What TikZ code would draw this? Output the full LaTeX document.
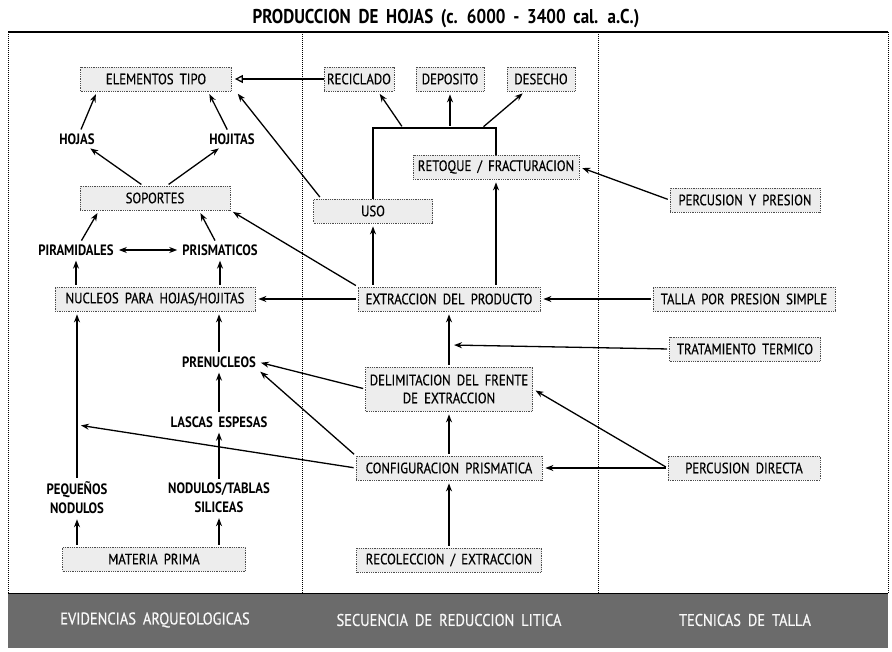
\documentclass[tikz,border=0pt]{standalone}
\usepackage{fontspec}
\setmainfont{PT Sans}[FakeStretch=0.85, WordSpace=1.8]
\newfontfamily\cajafont{PT Sans}[FakeStretch=0.85, WordSpace=1.8, FakeBold=0.5]
\usetikzlibrary{arrows.meta}

\tikzset{
  caja/.style={fill=gray!14, draw=gray!60!black, densely dotted, line width=0.8pt,
    minimum height=24pt, inner xsep=3pt, font=\cajafont\fontsize{15}{18}\selectfont, align=center},
  etiq/.style={font=\bfseries\fontsize{15}{19}\selectfont, align=center, inner sep=2pt},
  flecha/.style={->, line width=1.3pt, shorten >=3pt, shorten <=2pt},
  barra/.style={text=gray!5, font=\cajafont\fontsize{17}{20}\selectfont},
}

\begin{document}
\begin{tikzpicture}[x=1pt, y=-1pt, >={Stealth[length=8pt,width=6pt]}]
\useasboundingbox (0,0) rectangle (892,652);

% Titulo
\node[font=\bfseries\fontsize{20}{24}\selectfont] (titulo) at (446,19)
  {PRODUCCION DE HOJAS (c. 6000 - 3400 cal. a.C.)};

% Marco y columnas
\draw[line width=1.6pt] (8,32) -- (888,32);
\foreach \x in {8,302,598,888}
  \draw[densely dotted, line width=1pt] (\x,32) -- (\x,593);
\fill[black!58] (8,593) rectangle (888,648);
\draw[line width=1pt] (8,593) -- (888,593);
\node[barra] (bev) at (155,620) {EVIDENCIAS ARQUEOLOGICAS};
\node[barra] (bsec) at (449,620) {SECUENCIA DE REDUCCION LITICA};
\node[barra] (btec) at (745,620) {TECNICAS DE TALLA};

% Evidencias arqueologicas
\node[caja, minimum width=151pt] (elem) at (156,79) {ELEMENTOS TIPO};
\node[etiq] (hojas) at (77,139) {HOJAS};
\node[etiq] (hojitas) at (232,139) {HOJITAS};
\node[caja, minimum width=150pt] (soportes) at (155,198) {SOPORTES};
\node[etiq] (piram) at (76,250) {PIRAMIDALES};
\node[etiq] (prism) at (220,250) {PRISMATICOS};
\node[caja, minimum width=200pt] (nucleos) at (155,299) {NUCLEOS PARA HOJAS/HOJITAS};
\node[etiq] (prenuc) at (219,362) {PRENUCLEOS};
\node[etiq] (lascas) at (219,422) {LASCAS ESPESAS};
\node[etiq] (pequenos) at (77,498) {PEQUEÑOS\\NODULOS};
\node[etiq] (nodulos) at (219,498) {NODULOS/TABLAS\\SILICEAS};
\node[caja, minimum width=183pt] (materia) at (154,559) {MATERIA PRIMA};

% Secuencia de reduccion litica
\node[caja, minimum width=67pt] (recic) at (359,79) {RECICLADO};
\node[caja, minimum width=68pt] (depos) at (450,79) {DEPOSITO};
\node[caja, minimum width=68pt] (desech) at (541,79) {DESECHO};
\node[caja, minimum width=166pt] (retoque) at (496,167) {RETOQUE / FRACTURACION};
\node[caja, minimum width=119pt] (uso) at (373,211) {USO};
\node[caja, minimum width=182pt] (extrac) at (449,299) {EXTRACCION DEL PRODUCTO};
\node[caja, minimum width=167pt, minimum height=44pt] (delim) at (449,389)
  {DELIMITACION DEL FRENTE\\DE EXTRACCION};
\node[caja, minimum width=186pt] (config) at (449,468) {CONFIGURACION PRISMATICA};
\node[caja, minimum width=185pt] (recol) at (449,560) {RECOLECCION / EXTRACCION};

% Tecnicas de talla
\node[caja, minimum width=150pt] (percpres) at (745,200) {PERCUSION Y PRESION};
\node[caja, minimum width=182pt] (talla) at (744,299) {TALLA POR PRESION SIMPLE};
\node[caja, minimum width=151pt] (termico) at (745,349) {TRATAMIENTO TERMICO};
\node[caja, minimum width=152pt] (percdir) at (744,468) {PERCUSION DIRECTA};

% Puntos libres
\coordinate (b1) at (403,128);
\coordinate (b2) at (450,128);
\coordinate (b3) at (482,128);
\coordinate (puntoB) at (435,128);
\coordinate (ltermico) at (451,345);
\coordinate (lpeq) at (78,425);

% Flechas columna izquierda
\draw[flecha] (hojas) -- ([xshift=-59pt]elem.south);
\draw[flecha] (hojitas) -- ([xshift=52pt]elem.south);
\draw[flecha] ([xshift=-12pt]soportes.north) -- (hojas);
\draw[flecha] ([xshift=12pt]soportes.north) -- (hojitas);
\draw[flecha] (piram) -- ([xshift=-56pt]soportes.south);
\draw[flecha] (prism) -- ([xshift=44pt]soportes.south);
\draw[flecha, <->, shorten <=3pt] (piram) -- (prism);
\draw[flecha] (nucleos.north -| piram) -- (piram);
\draw[flecha] (nucleos.north -| prism) -- (prism);
\draw[flecha] (prenuc) -- (prenuc |- nucleos.south);
\draw[flecha] (lascas) -- (prenuc);
\draw[flecha] (nodulos) -- (lascas);
\draw[flecha] (pequenos) -- (pequenos |- nucleos.south);
\draw[flecha] (materia.north -| pequenos) -- (pequenos);
\draw[flecha] (materia.north -| nodulos) -- (nodulos);

% Flechas columna central
\draw[line width=1.3pt] (uso.north) |- (puntoB) -| (retoque.north);
\draw[flecha] (b1) -- ([xshift=19pt]recic.south);
\draw[flecha] (b2) -- (depos.south);
\draw[flecha] (b3) -- ([xshift=-16pt]desech.south);
\draw[line width=1.3pt, shorten >=3pt, -{Triangle[open,length=8pt,width=8pt]}] (recic) -- (elem);
\draw[flecha] ([xshift=8pt]uso.north west) -- ([xshift=4pt]elem.south east);
\draw[flecha] (extrac.north -| uso) -- (uso);
\draw[flecha] (extrac.north -| retoque) -- (retoque);
\draw[flecha] (extrac) -- (nucleos);
\draw[flecha] (extrac.north west) -- (soportes.south east);
\draw[flecha] (delim) -- (extrac);
\draw[flecha] (config) -- (delim);
\draw[flecha] (recol) -- (config);
\draw[flecha] (delim.west) -- (prenuc.east);
\draw[flecha] (config.north west) -- (prenuc.south east);
\draw[flecha] (config.west) -- (lpeq);

% Flechas tecnicas
\draw[flecha] (percpres.west) -- (retoque.east);
\draw[flecha] (talla) -- (extrac);
\draw[flecha] (termico.west) -- (ltermico);
\draw[flecha] (percdir) -- (config);
\draw[flecha] (percdir.west) -- (delim.east);

\end{tikzpicture}
\end{document}
